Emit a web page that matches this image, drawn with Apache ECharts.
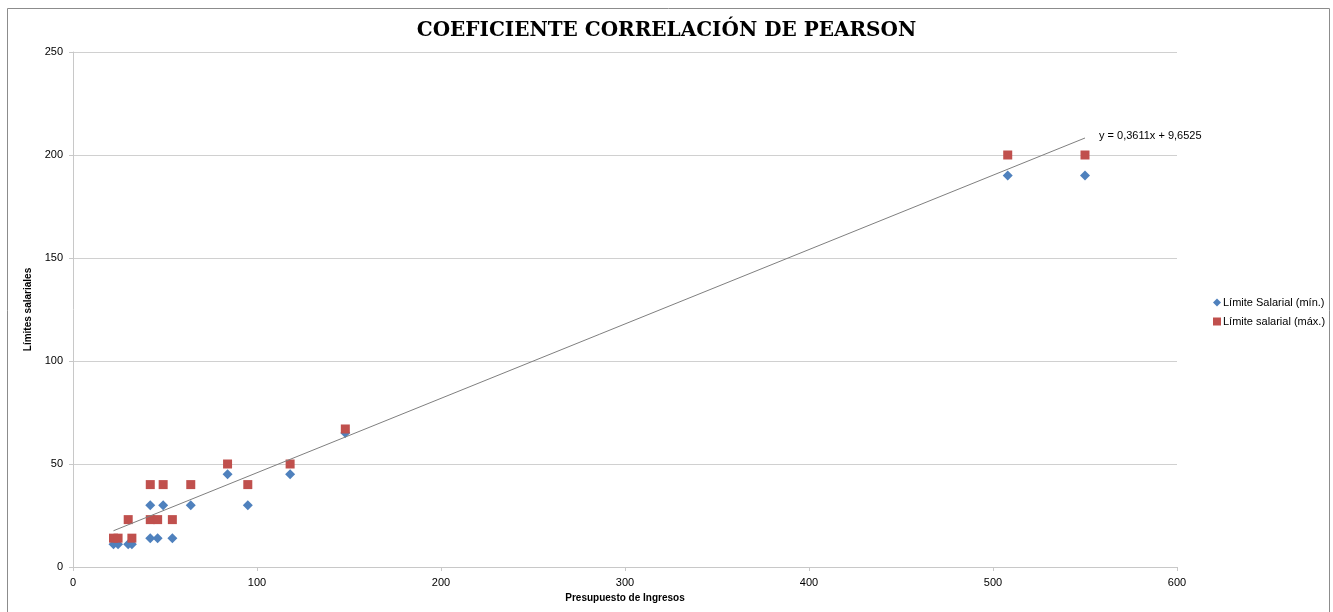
<!DOCTYPE html>
<html>
<head>
<meta charset="utf-8">
<script src="https://cdn.jsdelivr.net/npm/echarts@6/dist/echarts.min.js"></script>
<style>
html,body{margin:0;padding:0;background:#fff;}
#chart{width:1333px;height:612px;}
</style>
</head>
<body>
<div id="chart"></div>
<script>
// Presupuesto de Ingresos (x) and salary limits
var presupuesto = [22, 24.5, 30, 32, 42, 42, 46, 49, 54, 64, 84, 95, 118, 148, 508, 550];
var limiteMin   = [11, 11, 11, 11, 30, 14, 14, 30, 14, 30, 45, 30, 45, 65, 190, 190];
var limiteMax   = [14, 14, 23, 14, 40, 23, 23, 40, 23, 40, 50, 40, 50, 67, 200, 200];
var trendSlope = 0.3611;
var trendIntercept = 9.6525;
var trendLabel = 'y = 0,3611x + 9,6525';
var xTicks = [0, 100, 200, 300, 400, 500, 600];
var yTicks = [0, 50, 100, 150, 200, 250];

var minData = presupuesto.map(function (x, i) { return [x, limiteMin[i]]; });
var maxData = presupuesto.map(function (x, i) { return [x, limiteMax[i]]; });
var x0 = Math.min.apply(null, presupuesto), x1 = Math.max.apply(null, presupuesto);
var trendData = [[x0, trendSlope * x0 + trendIntercept], [x1, trendSlope * x1 + trendIntercept]];

var chart = echarts.init(document.getElementById('chart'));
var lblFont = 'Liberation Sans, Arial, sans-serif';
chart.setOption({
  animation: false,
  backgroundColor: '#fff',
  title: {
    text: 'COEFICIENTE CORRELACIÓN DE PEARSON',
    left: 'center', top: 16,
    textStyle: { fontFamily: 'DejaVu Serif, serif', fontWeight: 900, fontSize: 20, color: '#000' }
  },
  graphic: [{
    type: 'rect', silent: true,
    shape: { x: 7.5, y: 8.5, width: 1322, height: 640 },
    style: { fill: 'none', stroke: '#8c8c8c', lineWidth: 1 }
  }],
  legend: {
    orient: 'vertical', left: 1208, top: 292,
    itemWidth: 8, itemHeight: 8, itemGap: 8,
    textStyle: { fontFamily: lblFont, fontSize: 11, color: '#000', padding: [0, 0, 0, -3] },
    data: [
      { name: 'Límite Salarial (mín.)', icon: 'diamond' },
      { name: 'Límite salarial (máx.)', icon: 'rect' }
    ]
  },
  grid: { left: 73, right: 156, top: 52, bottom: 45 },
  xAxis: {
    type: 'value', min: 0, max: 600, interval: 100,
    name: 'Presupuesto de Ingresos', nameLocation: 'middle', nameGap: 26,
    nameTextStyle: { fontFamily: lblFont, fontSize: 10, fontWeight: 'bold', color: '#000' },
    axisLine: { show: true, lineStyle: { color: '#c8c8c8' } },
    axisTick: { show: true, length: 4, lineStyle: { color: '#c8c8c8' } },
    axisLabel: { fontFamily: lblFont, fontSize: 11, color: '#000', margin: 10,
      formatter: function (v) { return xTicks.indexOf(v) >= 0 ? String(v) : ''; } },
    splitLine: { show: false }
  },
  yAxis: {
    type: 'value', min: 0, max: 250, interval: 50,
    name: 'Límites salariales', nameLocation: 'middle', nameGap: 36, nameRotate: 90,
    nameTextStyle: { fontFamily: lblFont, fontSize: 10, fontWeight: 'bold', color: '#000' },
    axisLine: { show: true, lineStyle: { color: '#c8c8c8' } },
    axisTick: { show: true, length: 4, lineStyle: { color: '#c8c8c8' } },
    axisLabel: { fontFamily: lblFont, fontSize: 11, color: '#000', margin: 10,
      formatter: function (v) { return yTicks.indexOf(v) >= 0 ? String(v) : ''; } },
    splitLine: { show: true, lineStyle: { color: '#d0d0d0' } }
  },
  series: [
    {
      name: 'Límite Salarial (mín.)', type: 'scatter', symbol: 'diamond', symbolSize: 10,
      itemStyle: { color: '#4F81BD', opacity: 1 }, data: minData, z: 3
    },
    {
      name: 'Límite salarial (máx.)', type: 'scatter', symbol: 'rect', symbolSize: 9,
      itemStyle: { color: '#C0504D', opacity: 1 }, data: maxData, z: 4
    },
    {
      name: 'trend', type: 'line', data: trendData, symbol: 'none', z: 5,
      lineStyle: { color: '#7f7f7f', width: 1 },
      label: { show: false },
      endLabel: {
        show: true, formatter: trendLabel, distance: 14, offset: [0, -2],
        fontFamily: lblFont, fontSize: 11, color: '#000'
      },
      silent: true
    }
  ]
});
</script>
</body>
</html>
